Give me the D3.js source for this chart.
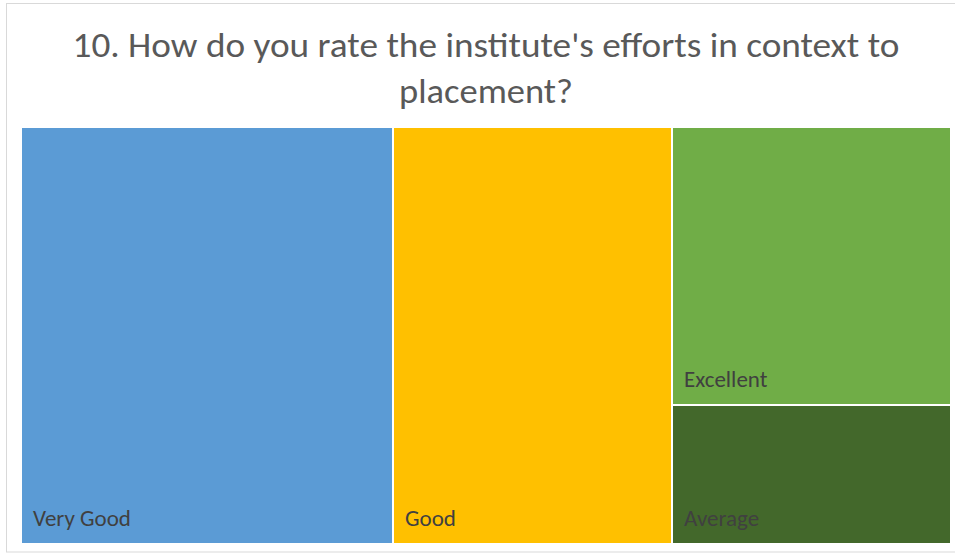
<!DOCTYPE html>
<html>
<head>
<meta charset="utf-8">
<script src="https://cdn.jsdelivr.net/npm/d3@7"></script>
<style>
  html, body { margin: 0; padding: 0; background: #fff; }
  svg { display: block; }
</style>
</head>
<body>
<svg id="chart" width="955" height="556"></svg>
<script>
// Survey answers, question 10
const titleLines = ["10. How do you rate the institute's efforts in context to", "placement?"];
const categories = ["Very Good", "Good", "Excellent", "Average"];
const counts = [40, 30, 20, 10];
const colors = ["#5B9BD5", "#FFC000", "#70AD47", "#43682B"];

const W = 955, H = 556;
const svg = d3.select("#chart");
const font = "Calibri, Carlito, Lato, 'Open Sans', sans-serif";

// chart frame
svg.append("rect")
  .attr("x", 6.5).attr("y", 3.5)
  .attr("width", 970).attr("height", 548.5)
  .attr("fill", "#fff")
  .attr("stroke", "#d9d9d9")
  .attr("stroke-width", 1);

// title
const titleWidths = [827, 174];
titleLines.forEach((t, i) => {
  svg.append("text")
    .attr("x", 486)
    .attr("y", 57 + i * 46)
    .attr("text-anchor", "middle")
    .attr("font-family", font)
    .attr("font-size", 34)
    .attr("fill", "#595959")
    .attr("textLength", titleWidths[i])
    .attr("lengthAdjust", "spacingAndGlyphs")
    .text(t);
});

// treemap
const plot = { x0: 22, y0: 128, x1: 950, y1: 543 };
const data = categories.map((c, i) => ({ name: c, value: counts[i], color: colors[i] }));
const root = d3.hierarchy({ children: data })
  .sum(d => d.value || 0)
  .sort((a, b) => b.value - a.value);

d3.treemap()
  .tile(d3.treemapSquarify.ratio(1))
  .size([plot.x1 - plot.x0, plot.y1 - plot.y0])
  .paddingInner(2)(root);

const g = svg.append("g").attr("transform", `translate(${plot.x0},${plot.y0})`);
const cell = g.selectAll("g.cell")
  .data(root.leaves())
  .join("g")
  .attr("class", "cell")
  .attr("transform", d => `translate(${d.x0},${d.y0})`);

cell.append("rect")
  .attr("width", d => d.x1 - d.x0)
  .attr("height", d => d.y1 - d.y0)
  .attr("fill", d => d.data.color);

cell.append("text")
  .attr("x", 11)
  .attr("y", d => d.y1 - d.y0 - 17)
  .attr("font-family", font)
  .attr("font-size", 23)
  .attr("fill", "#404040")
  .text(d => d.data.name);
</script>
</body>
</html>
